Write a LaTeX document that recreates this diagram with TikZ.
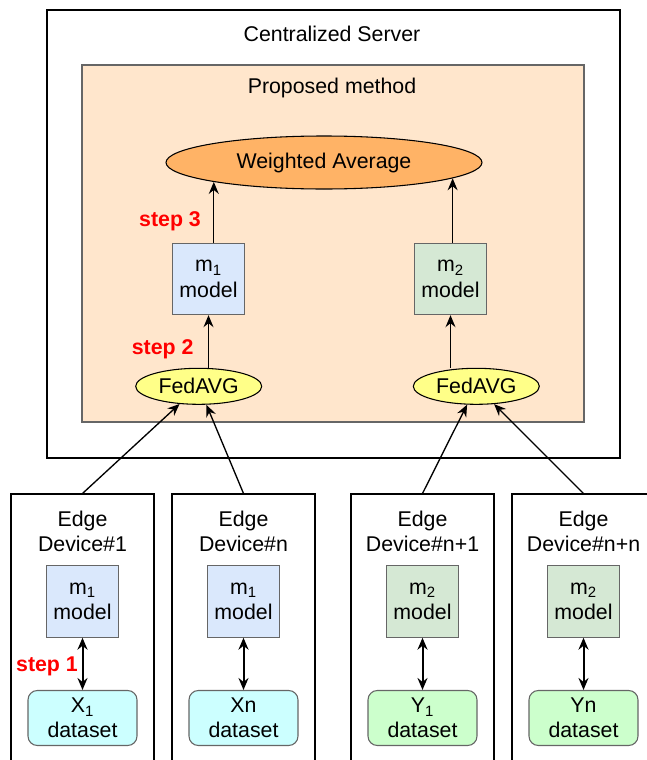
\documentclass[tikz,border=0pt]{standalone}
\usepackage{fontspec}
\setmainfont{Liberation Sans}
\usetikzlibrary{shapes.geometric,arrows.meta}
\definecolor{methodfill}{HTML}{FFE6CC}
\definecolor{avgfill}{HTML}{FFB366}
\definecolor{fedfill}{HTML}{FFFF88}
\definecolor{mblue}{HTML}{DAE8FC}
\definecolor{mgreen}{HTML}{D5E8D4}
\definecolor{xfill}{HTML}{CCFFFF}
\definecolor{yfill}{HTML}{CCFFCC}
\definecolor{edgegray}{HTML}{666666}
\definecolor{stepred}{rgb}{1,0,0}
\tikzset{
  device/.style={draw, line width=0.8pt, minimum width=107.25pt, minimum height=207pt},
  model/.style={draw=edgegray, line width=0.8pt, minimum width=54pt, minimum height=53.5pt, align=center, inner sep=0pt},
  data/.style={draw=edgegray, line width=0.8pt, rounded corners=7pt, minimum width=81.75pt, minimum height=41.25pt, align=center, inner sep=0pt},
  fed/.style={ellipse, draw, line width=0.8pt, fill=fedfill, minimum width=94.5pt, minimum height=27pt, inner sep=0pt},
  arr/.style={-{Stealth[length=9pt,width=7.5pt,inset=3pt]}, line width=1pt},
  dbl/.style={{Stealth[length=9pt,width=7.5pt,inset=3pt]}-{Stealth[length=9pt,width=7.5pt,inset=3pt]}, line width=1.5pt},
  steplabel/.style={text=stepred, font=\fontsize{16}{19}\selectfont\bfseries}
}

\begin{document}
\begin{tikzpicture}[x=0.75pt, y=-0.75pt, font=\fontsize{16}{19}\selectfont]
  \useasboundingbox (0,0) rectangle (646,760);

  % Server and proposed method frames
  \draw[line width=0.9pt] (47,10) rectangle (620,458);
  \draw[draw=edgegray, line width=0.8pt, fill=methodfill] (82,65) rectangle (584,422);
  \node (server) at (332,34) {Centralized Server};
  \node (method) at (332,88) {Proposed method};

  % Aggregation inside the server
  \node[ellipse, draw, line width=0.8pt, fill=avgfill, minimum width=237pt, minimum height=39.75pt] (wavg) at (324,162.5) {Weighted Average};
  \node[model, fill=mblue] (m1) at (208.5,279) {m\textsubscript{1}\\model};
  \node[model, fill=mgreen] (m2) at (450.5,279) {m\textsubscript{2}\\model};
  \node[fed] (fed1) at (198.7,386.3) {FedAVG};
  \node[fed] (fed2) at (476.3,386.3) {FedAVG};

  \draw[arr] (m1.north -| wavg.190) -- (wavg.190);
  \draw[arr] (m2.north -| wavg.-7) -- (wavg.-7);
  \draw[arr] (fed1.north -| m1.south) -- (m1.south);
  \draw[arr] (fed2.north -| m2.south) -- (m2.south);

  % Step labels
  \node[steplabel] (step3) at (170,221) {step 3};
  \node[steplabel] (step2) at (162.7,349.7) {step 2};

  % Edge device 1
  \node[device] (dev1) at (82.5,632) {};
  \node[align=center] (dev1title) at (82.5,531.5) {Edge\\Device\#1};
  \node[model, fill=mblue] (dev1m) at (82.5,601.5) {m\textsubscript{1}\\model};
  \node[data, fill=xfill] (dev1d) at (82.5,718) {X\textsubscript{1}\\dataset};
  \draw[dbl] (dev1m) -- (dev1d);
  \node[steplabel] (step1) at (47,666.5) {step 1};

  % Edge device n
  \node[device] (dev2) at (243.5,632) {};
  \node[align=center] (dev2title) at (243.5,531.5) {Edge\\Device\#n};
  \node[model, fill=mblue] (dev2m) at (243.5,601.5) {m\textsubscript{1}\\model};
  \node[data, fill=xfill] (dev2d) at (243.5,718) {Xn\\dataset};
  \draw[dbl] (dev2m) -- (dev2d);

  % Edge device n+1
  \node[device] (dev3) at (422.5,632) {};
  \node[align=center] (dev3title) at (422.5,531.5) {Edge\\Device\#n+1};
  \node[model, fill=mgreen] (dev3m) at (422.5,601.5) {m\textsubscript{2}\\model};
  \node[data, fill=yfill] (dev3d) at (422.5,718) {Y\textsubscript{1}\\dataset};
  \draw[dbl] (dev3m) -- (dev3d);

  % Edge device n+n
  \node[device] (dev4) at (583.5,632) {};
  \node[align=center] (dev4title) at (583.5,531.5) {Edge\\Device\#n+n};
  \node[model, fill=mgreen] (dev4m) at (583.5,601.5) {m\textsubscript{2}\\model};
  \node[data, fill=yfill] (dev4d) at (583.5,718) {Yn\\dataset};
  \draw[dbl] (dev4m) -- (dev4d);

  % Uploads to the server
  \draw[arr] (dev1.north) -- (fed1);
  \draw[arr] (dev2.north) -- (fed1);
  \draw[arr] (dev3.north) -- (fed2);
  \draw[arr] (dev4.north) -- (fed2);
\end{tikzpicture}
\end{document}
